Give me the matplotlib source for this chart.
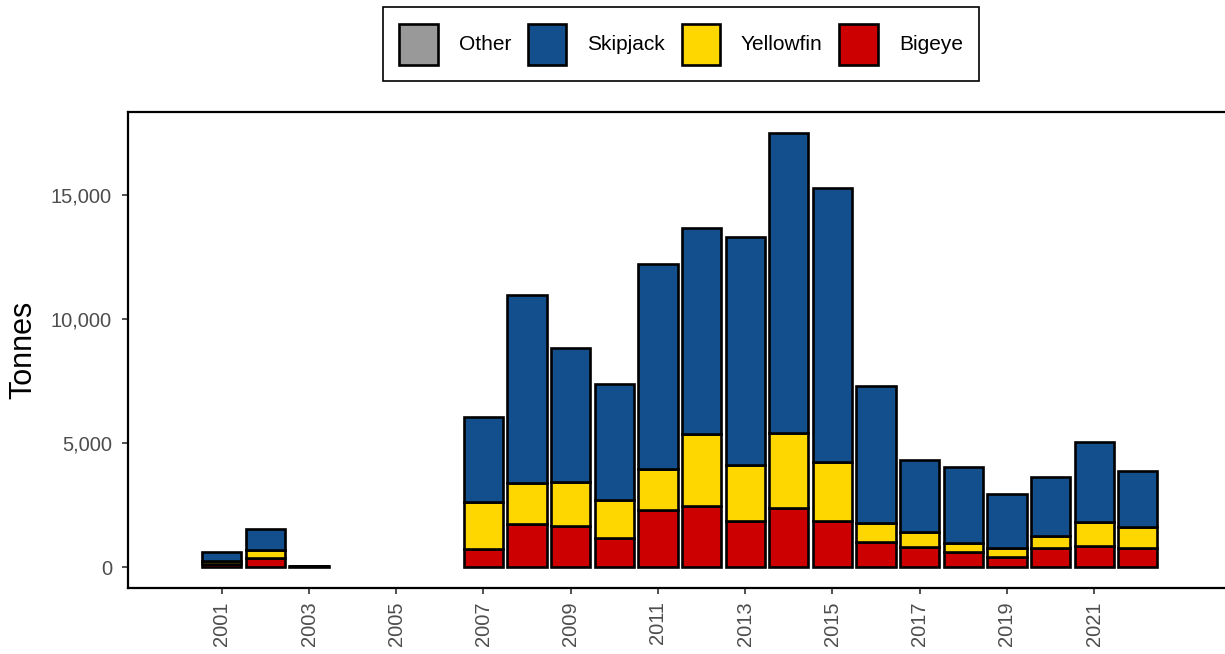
import matplotlib.pyplot as plt
import matplotlib.ticker as mticker
from matplotlib.patches import Patch
import numpy as np

plt.rcParams["font.family"] = ["Liberation Sans", "DejaVu Sans"]

# Catch by species (tonnes), years with no catch left out
years = [2001, 2002, 2003, 2007, 2008, 2009, 2010, 2011, 2012, 2013, 2014,
         2015, 2016, 2017, 2018, 2019, 2020, 2021, 2022]
bigeye = [110, 376, 25, 713, 1720, 1667, 1156, 2298, 2473, 1855, 2392,
          1855, 1022, 793, 591, 417, 753, 847, 753]
yellowfin = [150, 309, 15, 1896, 1654, 1760, 1559, 1667, 2903, 2271, 2998,
             2365, 739, 605, 363, 336, 510, 981, 846]
skipjack = [360, 834, 20, 3451, 7606, 5417, 4664, 8266, 8280, 9167, 12096,
            11076, 5537, 2917, 3065, 2177, 2379, 3212, 2285]
other = [0] * len(years)

species = ["Other", "Skipjack", "Yellowfin", "Bigeye"]
colors = {"Other": "#999999", "Skipjack": "#124F8C",
          "Yellowfin": "#FFD700", "Bigeye": "#CC0000"}

fig = plt.figure(figsize=(12.25, 6.54), dpi=100)
ax = fig.add_axes([0.1045, 0.1009, 0.8955, 0.7278])

x = np.array(years)
bottom = np.zeros(len(years))
stack = [("Bigeye", bigeye), ("Yellowfin", yellowfin),
         ("Skipjack", skipjack), ("Other", other)]
for name, vals in stack:
    vals = np.array(vals, dtype=float)
    keep = vals > 0
    ax.bar(x[keep], vals[keep], bottom=bottom[keep], width=0.9,
           color=colors[name], edgecolor="black", linewidth=1.9, zorder=2)
    bottom = bottom + vals

ax.set_xlim(1998.85, 2024.0)
ax.set_ylim(-847, 18347)
ax.set_xticks(range(2001, 2022, 2))
ax.set_yticks([0, 5000, 10000, 15000])
ax.yaxis.set_major_formatter(mticker.StrMethodFormatter("{x:,.0f}"))
ax.tick_params(axis="x", labelrotation=90, pad=5)
ax.tick_params(axis="y", pad=7)
ax.tick_params(length=4.5, width=1.2, color="#333333", labelcolor="#4D4D4D",
               labelsize=14.5)
ax.set_ylabel("Tonnes", fontsize=22, labelpad=9)

for side in ["left", "top", "bottom"]:
    ax.spines[side].set_linewidth(1.6)
ax.spines["right"].set_visible(False)

handles = [Patch(facecolor=colors[s], edgecolor="black", linewidth=1.9, label=s)
           for s in species]
leg = fig.legend(handles=handles, loc="upper center",
                 bbox_to_anchor=(0.556, 1 - 7 / 654), borderaxespad=0,
                 ncol=4, fontsize=15, handlelength=1.85, handleheight=2.65,
                 handletextpad=1.0, columnspacing=0.8, borderpad=0.8,
                 fancybox=False, edgecolor="black", framealpha=1)
leg.get_frame().set_linewidth(1.2)

fig.savefig("out.png", dpi=100)
